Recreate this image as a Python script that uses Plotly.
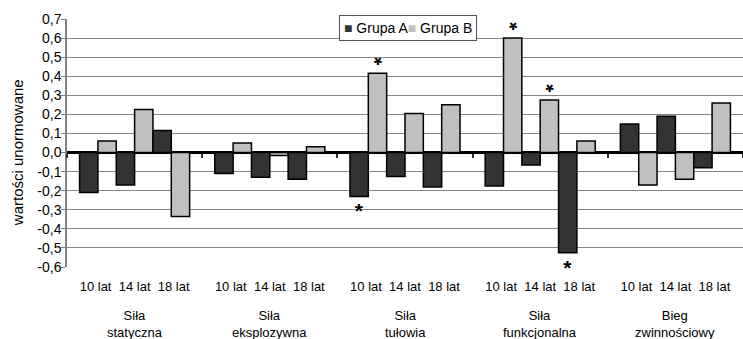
import plotly.graph_objects as go

# Test groups (categories on the x axis)
group_names = ["Siła statyczna", "Siła eksplozywna", "Siła tułowia",
               "Siła funkcjonalna", "Bieg zwinnościowy"]
age_labels = ["10 lat", "14 lat", "18 lat"]

# Normalised values per age, one value per test group
a_10 = [-0.21, -0.11, -0.23, -0.175, 0.15]
b_10 = [0.06, 0.05, 0.415, 0.60, -0.17]
a_14 = [-0.17, -0.13, -0.125, -0.065, 0.19]
b_14 = [0.225, -0.015, 0.205, 0.275, -0.14]
a_18 = [0.115, -0.14, -0.18, -0.525, -0.08]
b_18 = [-0.335, 0.03, 0.25, 0.06, 0.26]

# Statistically significant differences (marked with an asterisk)
sig_a_10 = [False, False, True, False, False]
sig_b_10 = [False, False, True, True, False]
sig_a_14 = [False, False, False, False, False]
sig_b_14 = [False, False, False, True, False]
sig_a_18 = [False, False, False, True, False]
sig_b_18 = [False, False, False, False, False]

y_ticks = [0.7, 0.6, 0.5, 0.4, 0.3, 0.2, 0.1, 0.0, -0.1, -0.2, -0.3, -0.4, -0.5, -0.6]
y_tick_text = ["0,7", "0,6", "0,5", "0,4", "0,3", "0,2", "0,1", "0,0",
               "-0,1", "-0,2", "-0,3", "-0,4", "-0,5", "-0,6"]
y_min, y_max = -0.6, 0.7

COLOR_A = "#333333"
COLOR_B = "#c0c0c0"
FONT = "Liberation Sans, Arial, sans-serif"

series = [
    ("Grupa A", "10 lat", a_10, sig_a_10, COLOR_A),
    ("Grupa B", "10 lat", b_10, sig_b_10, COLOR_B),
    ("Grupa A", "14 lat", a_14, sig_a_14, COLOR_A),
    ("Grupa B", "14 lat", b_14, sig_b_14, COLOR_B),
    ("Grupa A", "18 lat", a_18, sig_a_18, COLOR_A),
    ("Grupa B", "18 lat", b_18, sig_b_18, COLOR_B),
]

fig = go.Figure()
for grp, age, vals, sig, col in series:
    marked = [v for v, s in zip(vals, sig) if s]
    # asterisks above positive bars are turned upside down so that the
    # glyph sits close to the bar end (it lives in the top of its text box)
    above = bool(marked) and all(v > 0 for v in marked)
    fig.add_trace(go.Bar(
        x=group_names, y=vals, name=f"{grp} – {age}",
        marker=dict(color=col, line=dict(color="#000000", width=1.5)),
        text=["*" if s else "" for s in sig],
        textposition="outside",
        textangle=180 if above else 0,
        textfont=dict(family=FONT, size=21, color="#000000", weight="bold"),
        constraintext="none",
        cliponaxis=False,
        showlegend=False,
    ))

# Helper trace so the overlay axis knows the categories (draws nothing)
fig.add_trace(go.Scatter(
    x=group_names, y=[0] * len(group_names), xaxis="x2", yaxis="y",
    mode="markers", marker=dict(size=1, opacity=0),
    hoverinfo="skip", showlegend=False,
))

zero_pos = (0 - y_min) / (y_max - y_min)

fig.update_layout(
    width=743, height=339,
    margin=dict(l=67, r=0, t=19, b=72),
    paper_bgcolor="white", plot_bgcolor="white",
    barmode="group", bargap=0.186, bargroupgap=0,
    font=dict(family=FONT, size=13, color="#000000"),
    showlegend=False,
    xaxis=dict(
        type="category", categoryorder="array", categoryarray=group_names,
        range=[-0.5, len(group_names) - 0.5],
        tickvals=group_names,
        ticktext=["  ".join(age_labels)] * len(group_names),
        ticks="", showgrid=False, showline=False, zeroline=False,
        ticklabelstandoff=10,
        tickfont=dict(size=13),
    ),
    xaxis2=dict(
        type="category", categoryorder="array", categoryarray=group_names,
        overlaying="x", anchor="free", position=zero_pos,
        range=[-0.5, len(group_names) - 0.5],
        tickson="boundaries", ticks="outside", ticklen=4, tickwidth=2,
        tickcolor="#333333", showticklabels=False,
        showgrid=False, showline=False, zeroline=False,
    ),
    yaxis=dict(
        range=[y_min, y_max],
        tickvals=y_ticks, ticktext=y_tick_text,
        ticks="outside", ticklen=4, tickcolor="#808080", tickwidth=1,
        showline=True, linecolor="#808080", linewidth=1.5,
        showgrid=True, gridcolor="#858585", gridwidth=1.2,
        zeroline=True, zerolinecolor="#000000", zerolinewidth=3,
        tickfont=dict(size=14),
        ticklabelstandoff=-3,
    ),
)

# Y axis title, centred on the zero line
fig.add_annotation(
    x=-0.073, xref="paper", y=zero_pos, yref="paper",
    text="wartości unormowane", textangle=-90, showarrow=False,
    xanchor="center", yanchor="middle", font=dict(size=15),
)

# Two-line test group names below the age labels
for name in group_names:
    fig.add_annotation(
        x=name, xref="x", y=-0.228, yref="paper",
        text=name.replace(" ", "<br>", 1),
        showarrow=False, yanchor="middle", xanchor="center",
        font=dict(size=13), align="center",
    )

# Legend box
legend_text = (f'<span style="color:{COLOR_A}">■</span> Grupa A'
               f'<span style="color:{COLOR_B}">■</span> Grupa B')
fig.add_annotation(
    x=0.505, xref="paper", y=0.963, yref="paper",
    text=legend_text, showarrow=False,
    xanchor="center", yanchor="middle",
    font=dict(size=14), bgcolor="white",
    bordercolor="#555555", borderwidth=1, borderpad=4,
)

fig.write_html("out.html")
